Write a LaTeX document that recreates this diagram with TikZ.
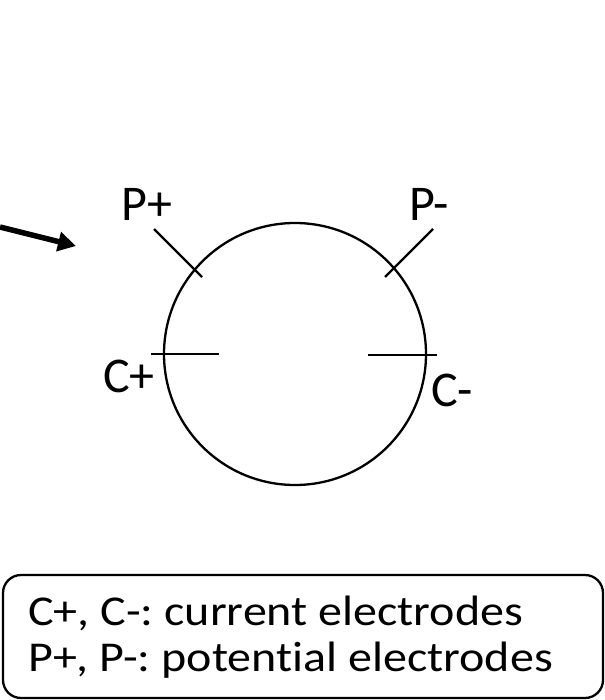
\documentclass[tikz,border=0pt]{standalone}
\usepackage{fontspec}
\setmainfont[Ligatures=NoCommon]{Carlito}
\newfontfamily\legendfont[FakeStretch=1.13,Ligatures=NoCommon]{Carlito}
\usetikzlibrary{arrows.meta}
\frenchspacing
\tikzset{
  lbl/.style={anchor=base, inner sep=0pt, font=\fontsize{50bp}{60bp}\selectfont},
  tick/.style={line width=2.3bp},
  legend/.style={draw, line width=2.3bp, rounded corners=18bp},
  legendtext/.style={anchor=base west, inner sep=0pt, font=\legendfont\fontsize{42.5bp}{46bp}\selectfont},
  pointer/.style={line width=5.5bp, -{Triangle[length=18bp,width=19bp]}}
}
\begin{document}
\begin{tikzpicture}[x=1bp,y=-1bp]
\useasboundingbox (0,0) rectangle (605,700);
% sample circle
\node[draw, circle, line width=2.3bp, minimum size=262bp, inner sep=0pt] (sample) at (295,354) {};
% electrode ticks
\draw[tick] (154,229) -- (202,277);
\draw[tick] (433,229) -- (385,277);
\draw[tick] (151,354) -- (219,354);
\draw[tick] (368,355) -- (437,355);
% labels
\node[lbl] (pplus) at (147,220) {P+};
\node[lbl] (pminus) at (429,220) {P-};
\node[lbl] (cplus) at (129,392) {C+};
\node[lbl] (cminus) at (452,406) {C-};
% arrow
\coordinate (tail) at (0,227);
\coordinate (tip) at (76,246);
\draw[pointer] (tail) -- (tip);
% legend box
\draw[legend] (3,575) rectangle (603,698);
\node[legendtext] (l1) at (28,625) {C+, C-: current electrodes};
\node[legendtext] (l2) at (28,671) {P+, P-: potential electrodes};
\end{tikzpicture}
\end{document}
